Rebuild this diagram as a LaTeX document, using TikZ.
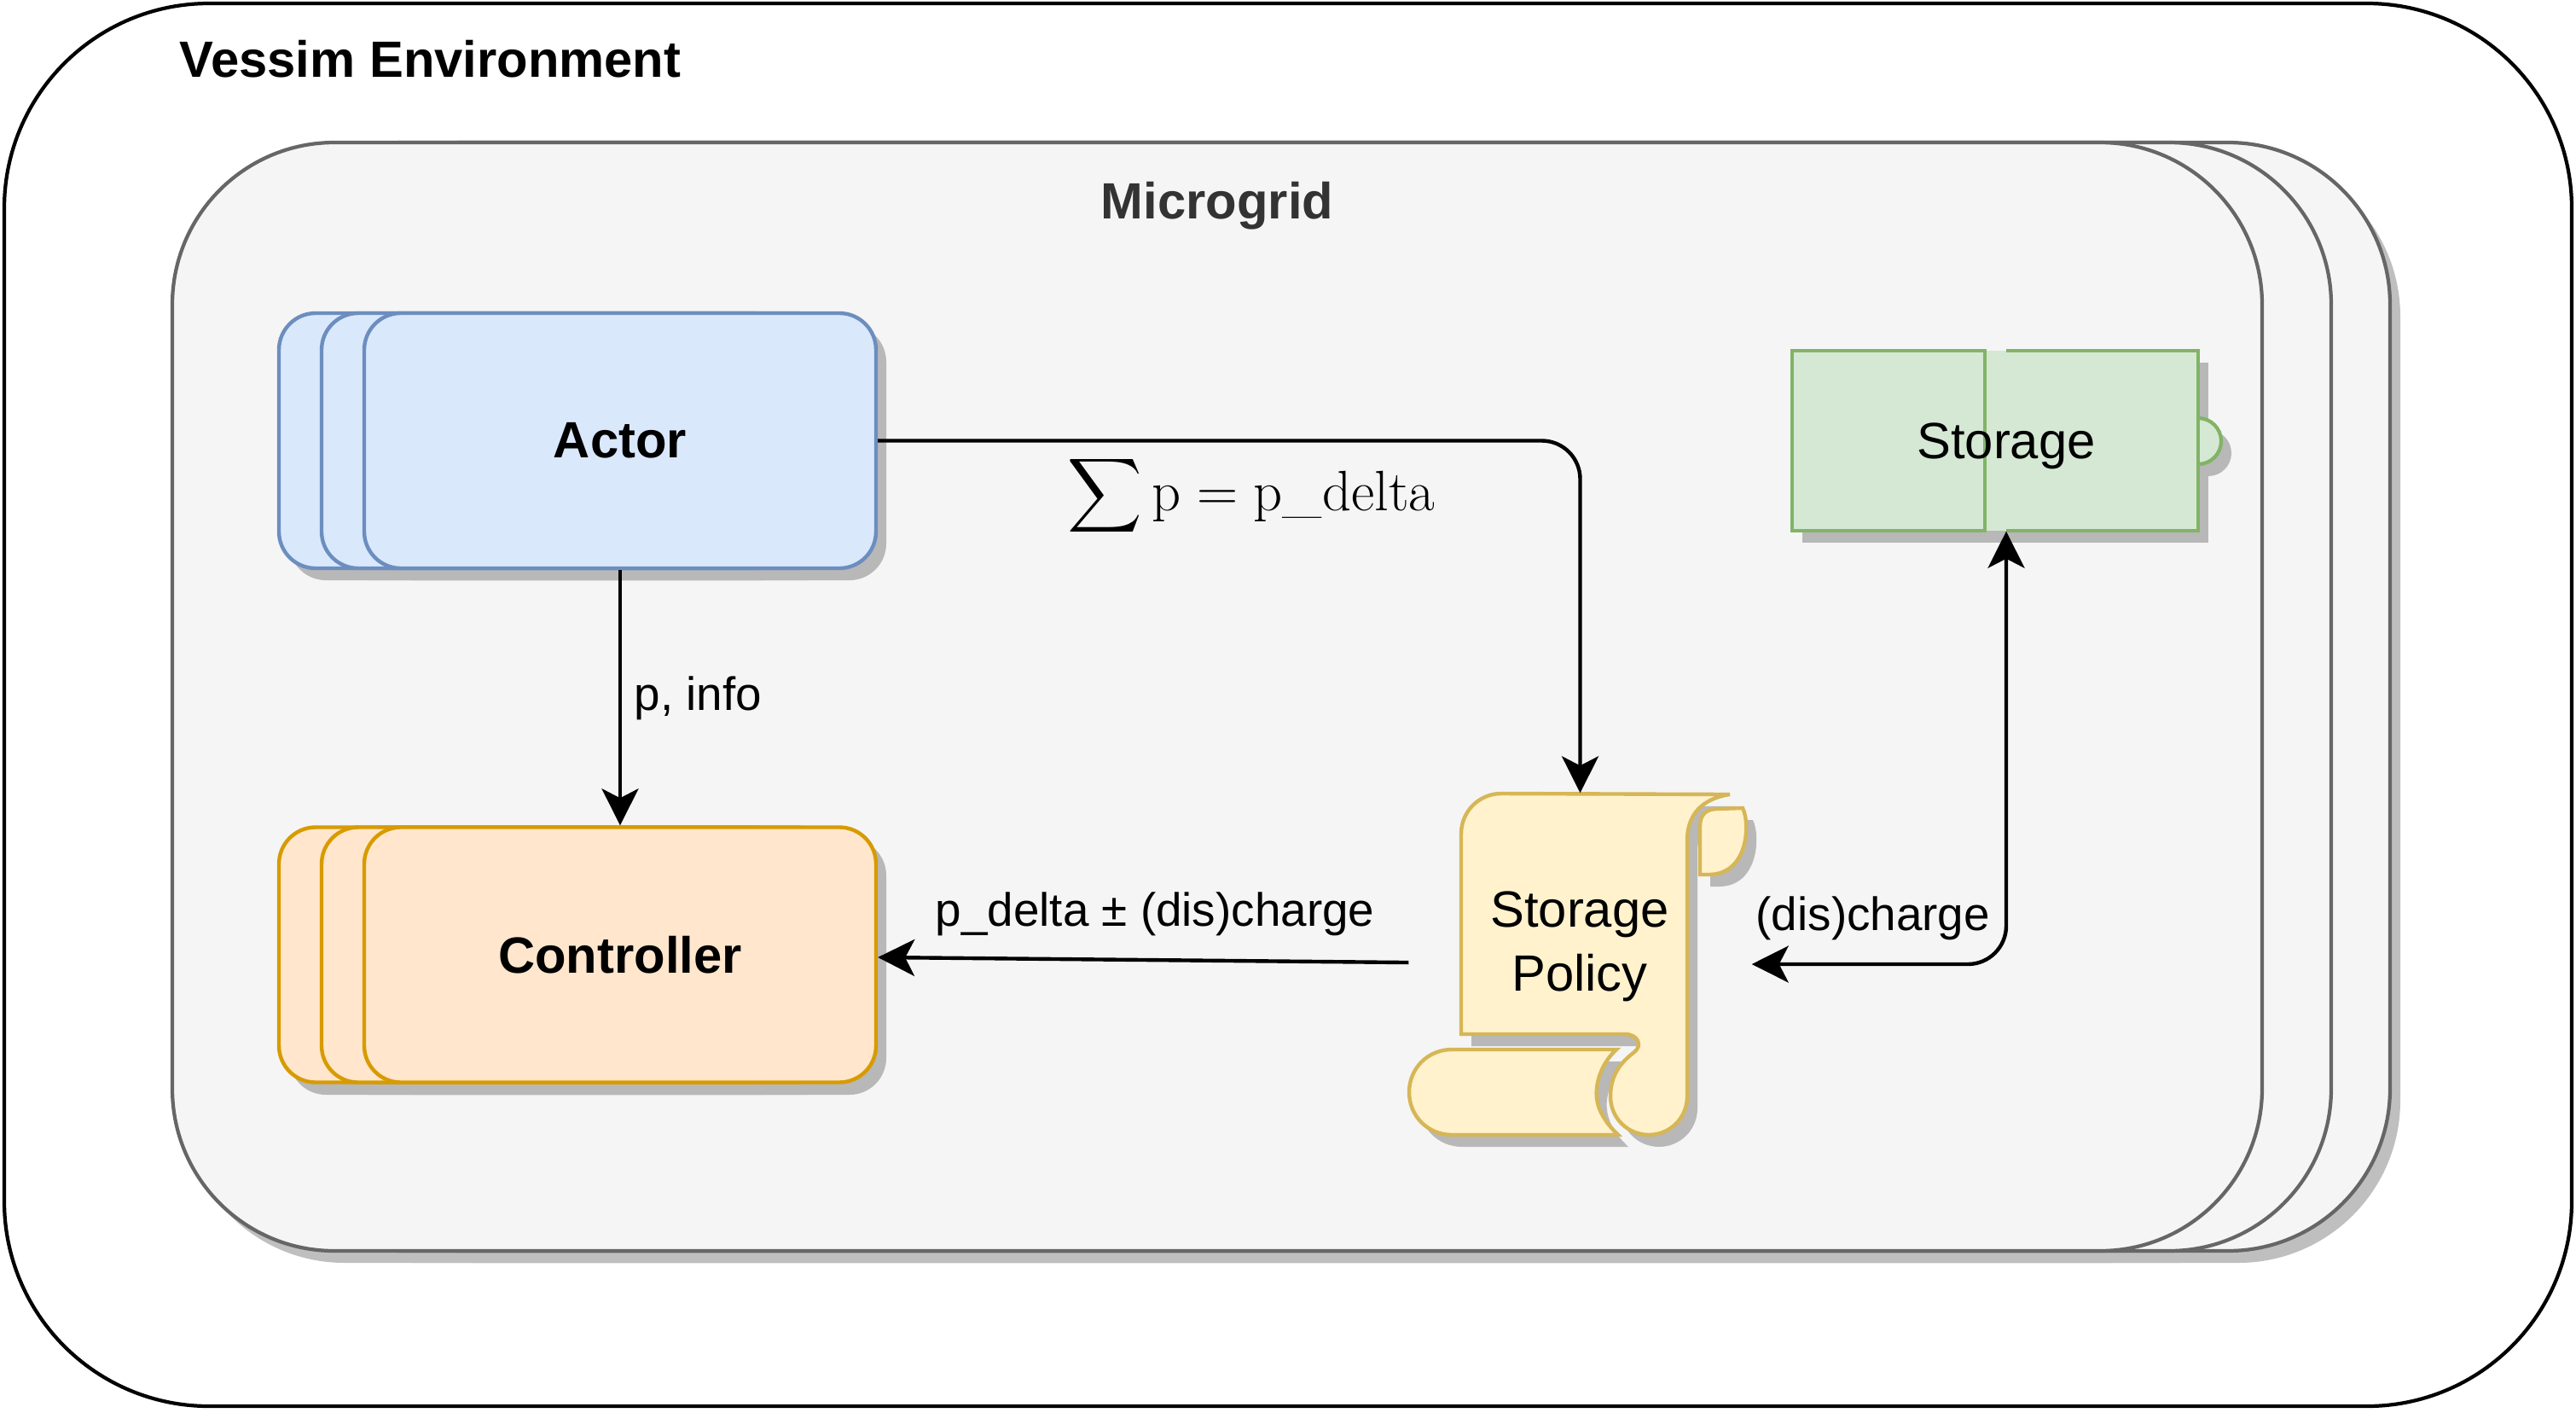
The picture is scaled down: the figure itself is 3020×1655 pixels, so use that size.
\RequirePackage{fix-cm}
\documentclass[tikz,border=0pt]{standalone}
\usepackage{amsmath}
\usepackage{fontspec}
\newfontfamily\helv{Liberation Sans}
\usetikzlibrary{arrows.meta}

\definecolor{gridfill}{HTML}{F5F5F5}
\definecolor{gridline}{HTML}{666666}
\definecolor{gridtext}{HTML}{333333}
\definecolor{actorfill}{HTML}{DAE8FC}
\definecolor{actorline}{HTML}{6C8EBF}
\definecolor{ctrlfill}{HTML}{FFE6CC}
\definecolor{ctrlline}{HTML}{D79B00}
\definecolor{storefill}{HTML}{D5E8D4}
\definecolor{storeline}{HTML}{82B366}
\definecolor{policyfill}{HTML}{FFF2CC}
\definecolor{policyline}{HTML}{D6B656}
\definecolor{shadowout}{HTML}{BFBFBF}
\definecolor{shadowin}{HTML}{B8B8B8}

\begin{document}
\begin{tikzpicture}[x=0.1mm, y=-0.1mm,
txt/.style = {font=\helv\fontsize{17}{21.3}\selectfont, inner sep=0pt},
boldtxt/.style = {font=\helv\bfseries\fontsize{17}{21.3}\selectfont, inner sep=0pt},
edgetxt/.style = {font=\helv\fontsize{15.6}{18}\selectfont, inner sep=0pt},
box/.style = {boldtxt, draw, line width=1.25pt, rounded corners=4.3mm, minimum width=60mm, minimum height=29.9mm},
actorbox/.style = {box, fill=actorfill, draw=actorline},
ctrlbox/.style = {box, fill=ctrlfill, draw=ctrlline},
gridbox/.style = {draw=gridline, fill=gridfill, line width=1.2pt, rounded corners=19mm, minimum width=245mm, minimum height=129.9mm},
flow/.style = {line width=1.25pt, -{Stealth[length=4.3mm, width=4.3mm, inset=1.1mm]}, rounded corners=4.5mm},
flowboth/.style = {flow, {Stealth[length=4.3mm, width=4.3mm, inset=1.1mm]}-{Stealth[length=4.3mm, width=4.3mm, inset=1.1mm]}}]
\useasboundingbox (0,0) rectangle (3020,1655);

\node[draw, line width=1.2pt, rounded corners=24mm, minimum width=301mm, minimum height=164.4mm] (env) at (1510,826) {};
\node[boldtxt, anchor=base west] (envtitle) at (210,90) {Vessim Environment};

% microgrid layers
\fill[shadowout, rounded corners=19mm] (364,181) rectangle (2814,1480);
\fill[shadowout, rounded corners=19mm] (295,181) rectangle (2745,1480);
\fill[shadowout, rounded corners=19mm] (214,181) rectangle (2664,1480);
\node[gridbox] (mgc) at (1577,816.5) {};
\node[gridbox] (mgb) at (1508,816.5) {};
\node[gridbox] (mga) at (1427,816.5) {};
\node[boldtxt, text=gridtext, anchor=base] (mgtitle) at (1427,256) {Microgrid};

% actors
\fill[shadowin, rounded corners=4.3mm] (339,381) rectangle (939,680);
\fill[shadowin, rounded corners=4.3mm] (389,381) rectangle (989,680);
\fill[shadowin, rounded corners=4.3mm] (439,381) rectangle (1039,680);
\node[actorbox] (actorc) at (627,516.5) {};
\node[actorbox] (actorb) at (677,516.5) {};
\node[actorbox] (actor) at (727,516.5) {Actor};

% controllers
\fill[shadowin, rounded corners=4.3mm] (339,983) rectangle (939,1283);
\fill[shadowin, rounded corners=4.3mm] (389,983) rectangle (989,1283);
\fill[shadowin, rounded corners=4.3mm] (439,983) rectangle (1039,1283);
\node[ctrlbox] (ctrlc) at (627,1119) {};
\node[ctrlbox] (ctrlb) at (677,1119) {};
\node[ctrlbox] (controller) at (727,1119) {Controller};

% storage
\fill[shadowin] (2113,425) rectangle (2589,636);
\fill[shadowin] (2589,531) circle[radius=2.7mm];
\filldraw[fill=storefill, draw=storeline, line width=1.2pt] (2577,517) circle[radius=2.7mm];
\fill[storefill] (2101,411) rectangle (2577,622);
\draw[storeline, line width=1.2pt] (2101,411) rectangle (2327,622);
\draw[storeline, line width=1.2pt] (2352,411) -- (2577,411) -- (2577,622) -- (2352,622);
\node[txt, text depth=0pt, minimum height=21.1mm] (storage) at (2352,516.5) {Storage};

% storage policy scroll
\begin{scope}[shift={(12,14)}]
\fill[shadowin] (1713,1212) -- (1713,977) .. controls (1713,951) and (1734,930) .. (1760,930) -- (2028,931) .. controls (1995,936) and (1978,955) .. (1978,985) -- (1978,1285) .. controls (1978,1310) and (1958,1330) .. (1933,1330) .. controls (1908,1330) and (1888,1310) .. (1888,1285) .. controls (1888,1260) and (1900,1245) .. (1916,1233) .. controls (1926,1225) and (1920,1212) .. (1905,1212) -- cycle
  (1895,1230) -- (1702,1230) .. controls (1674,1230) and (1652,1252) .. (1652,1280) .. controls (1652,1308) and (1674,1330) .. (1702,1330) -- (1897,1330) .. controls (1876,1310) and (1870,1292) .. (1872,1275) .. controls (1874,1258) and (1882,1242) .. (1895,1230) -- cycle
  (1993,1025) -- (1993,968) .. controls (1993,955) and (2000,948) .. (2013,948) -- (2043,947) .. controls (2052,965) and (2050,1025) .. (2003,1025) -- cycle;
\end{scope}
\filldraw[fill=policyfill, draw=policyline, line width=1.25pt] (1713,1212) -- (1713,977) .. controls (1713,951) and (1734,930) .. (1760,930) -- (2028,931) .. controls (1995,936) and (1978,955) .. (1978,985) -- (1978,1285) .. controls (1978,1310) and (1958,1330) .. (1933,1330) .. controls (1908,1330) and (1888,1310) .. (1888,1285) .. controls (1888,1260) and (1900,1245) .. (1916,1233) .. controls (1926,1225) and (1920,1212) .. (1905,1212) -- cycle;
\filldraw[fill=policyfill, draw=policyline, line width=1.25pt] (1895,1230) -- (1702,1230) .. controls (1674,1230) and (1652,1252) .. (1652,1280) .. controls (1652,1308) and (1674,1330) .. (1702,1330) -- (1897,1330) .. controls (1876,1310) and (1870,1292) .. (1872,1275) .. controls (1874,1258) and (1882,1242) .. (1895,1230) -- cycle;
\filldraw[fill=policyfill, draw=policyline, line width=1.25pt] (1993,1025) -- (1993,968) .. controls (1993,955) and (2000,948) .. (2013,948) -- (2043,947) .. controls (2052,965) and (2050,1025) .. (2003,1025) -- cycle;
\node[minimum width=40.1mm, minimum height=40mm, inner sep=0pt] (policy) at (1852.5,1130) {};
\node[txt, align=center] (policylabel) at (1852,1109) {Storage\\Policy};

% connectors
\draw[flow] (actor) -- (controller);
\draw[flow] (actor) -| (policy);
\draw[flow] (policy) -- (controller);
\draw[flowboth] (storage) |- (policy);

\node[edgetxt, anchor=base west] (infolabel) at (743,832) {p, info};
\node[anchor=base west, inner sep=0pt, font=\fontsize{19}{23}\selectfont] (sumlabel) at (1251,598) {$\displaystyle\sum \mathrm{p} = \mathrm{p\_delta}$};
\node[edgetxt, anchor=base west] (deltalabel) at (1096,1085) {p\_delta ± (dis)charge};
\node[edgetxt, anchor=base west] (chargelabel) at (2058,1090) {(dis)charge};

\end{tikzpicture}
\end{document}
